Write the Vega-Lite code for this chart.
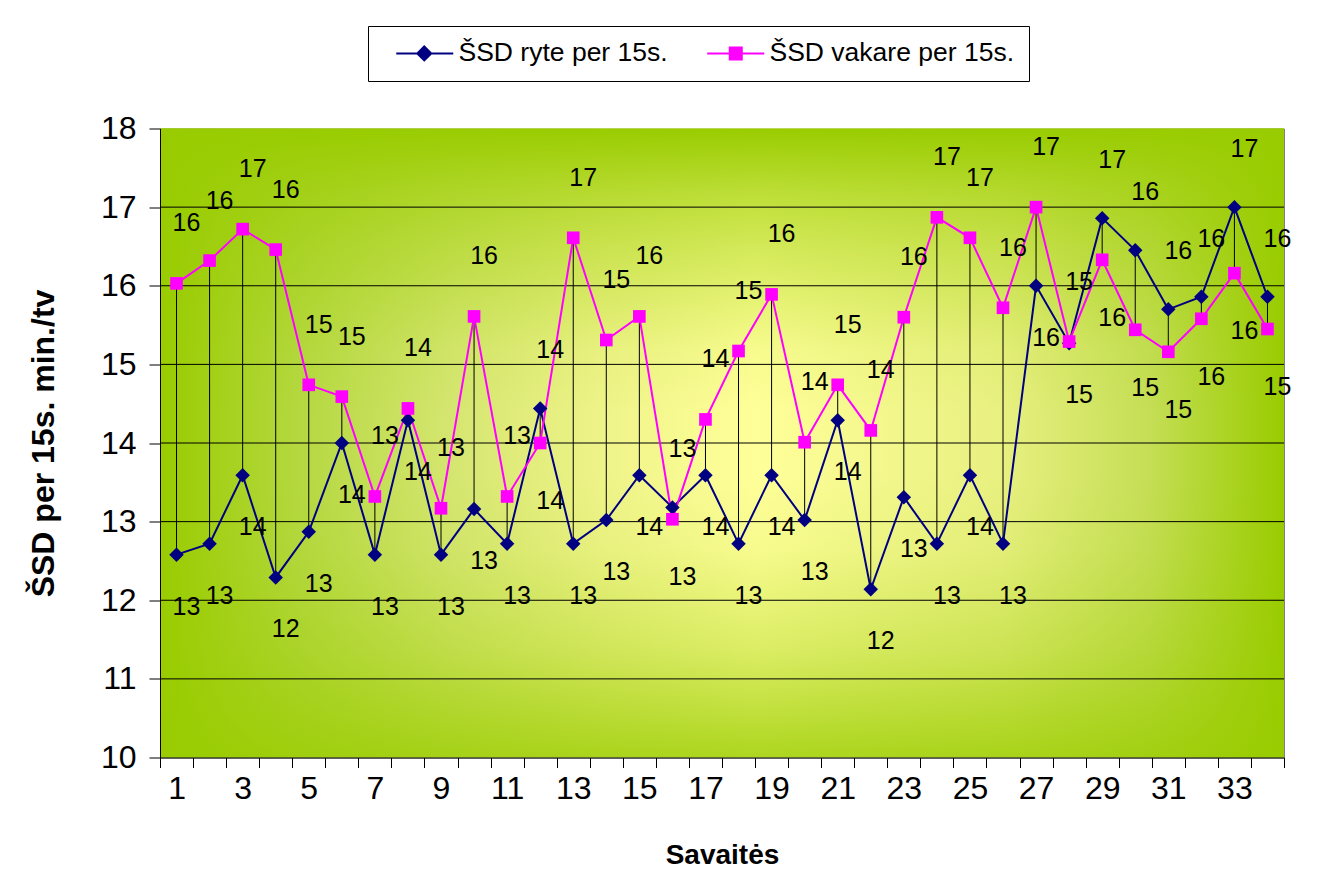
{
  "$schema": "https://vega.github.io/schema/vega-lite/v6.json",
  "width": 1124,
  "height": 629,
  "autosize": {"type": "none"},
  "padding": {"left": 160, "top": 128.5, "right": 35, "bottom": 117.5},
  "background": "white",
  "datasets": {
    "savaites": [
      {"w": 1, "ryte": 12.58, "vakare": 16.03},
      {"w": 2, "ryte": 12.72, "vakare": 16.32},
      {"w": 3, "ryte": 13.59, "vakare": 16.72},
      {"w": 4, "ryte": 12.29, "vakare": 16.46},
      {"w": 5, "ryte": 12.87, "vakare": 14.74},
      {"w": 6, "ryte": 14.0, "vakare": 14.59},
      {"w": 7, "ryte": 12.58, "vakare": 13.32},
      {"w": 8, "ryte": 14.29, "vakare": 14.44},
      {"w": 9, "ryte": 12.58, "vakare": 13.17},
      {"w": 10, "ryte": 13.16, "vakare": 15.61},
      {"w": 11, "ryte": 12.72, "vakare": 13.32},
      {"w": 12, "ryte": 14.44, "vakare": 14.0},
      {"w": 13, "ryte": 12.72, "vakare": 16.61},
      {"w": 14, "ryte": 13.02, "vakare": 15.31},
      {"w": 15, "ryte": 13.59, "vakare": 15.61},
      {"w": 16, "ryte": 13.18, "vakare": 13.03},
      {"w": 17, "ryte": 13.59, "vakare": 14.3},
      {"w": 18, "ryte": 12.72, "vakare": 15.17},
      {"w": 19, "ryte": 13.59, "vakare": 15.89},
      {"w": 20, "ryte": 13.02, "vakare": 14.01},
      {"w": 21, "ryte": 14.29, "vakare": 14.74},
      {"w": 22, "ryte": 12.14, "vakare": 14.16},
      {"w": 23, "ryte": 13.31, "vakare": 15.6},
      {"w": 24, "ryte": 12.72, "vakare": 16.87},
      {"w": 25, "ryte": 13.59, "vakare": 16.61},
      {"w": 26, "ryte": 12.72, "vakare": 15.72},
      {"w": 27, "ryte": 16.0, "vakare": 17.0},
      {"w": 28, "ryte": 15.27, "vakare": 15.29},
      {"w": 29, "ryte": 16.86, "vakare": 16.33},
      {"w": 30, "ryte": 16.45, "vakare": 15.44},
      {"w": 31, "ryte": 15.7, "vakare": 15.16},
      {"w": 32, "ryte": 15.86, "vakare": 15.58},
      {"w": 33, "ryte": 17.0, "vakare": 16.16},
      {"w": 34, "ryte": 15.86, "vakare": 15.45}
    ],
    "tinklelis": [{"g": 11}, {"g": 12}, {"g": 13}, {"g": 14}, {"g": 15}, {"g": 16}, {"g": 17}]
  },
  "data": {"name": "savaites"},
  "layer": [
    {
      "data": {"values": [{}]},
      "mark": {
        "type": "rect",
        "fill": {
          "gradient": "linear", "x1": 0, "y1": 0, "x2": 1, "y2": 0,
          "stops": [
            {"offset": 0, "color": "#99CC00"},
            {"offset": 0.125, "color": "#B5D840"},
            {"offset": 0.26, "color": "#D5E670"},
            {"offset": 0.39, "color": "#EEF388"},
            {"offset": 0.53, "color": "#FFFF99"},
            {"offset": 0.75, "color": "#E8F080"},
            {"offset": 0.88, "color": "#C5DE55"},
            {"offset": 1, "color": "#99CC00"}
          ]
        }
      },
      "encoding": {"x": {"value": 0}, "x2": {"value": "width"}, "y": {"value": 0}, "y2": {"value": "height"}}
    },
    {
      "data": {"values": [{}]},
      "mark": {
        "type": "rect",
        "fill": {
          "gradient": "linear", "x1": 0, "y1": 0, "x2": 0, "y2": 1,
          "stops": [
            {"offset": 0, "color": "rgba(153,204,0,1)"},
            {"offset": 0.1, "color": "rgba(153,204,0,0.65)"},
            {"offset": 0.19, "color": "rgba(153,204,0,0.42)"},
            {"offset": 0.35, "color": "rgba(153,204,0,0.08)"},
            {"offset": 0.45, "color": "rgba(153,204,0,0)"},
            {"offset": 0.55, "color": "rgba(153,204,0,0)"},
            {"offset": 0.67, "color": "rgba(153,204,0,0.08)"},
            {"offset": 0.83, "color": "rgba(153,204,0,0.35)"},
            {"offset": 1, "color": "rgba(153,204,0,0.8)"}
          ]
        }
      },
      "encoding": {"x": {"value": 0}, "x2": {"value": "width"}, "y": {"value": 0}, "y2": {"value": "height"}}
    },
    {
      "data": {"name": "tinklelis"},
      "mark": {"type": "rule", "color": "black", "strokeWidth": 1},
      "encoding": {
        "y": {"field": "g", "type": "quantitative", "scale": {"domain": [10, 18]}, "title": "ŠSD per 15s. min./tv", "axis": {"zindex": 1, "tickCount": 8}}
      }
    },
    {
      "mark": {"type": "rule", "color": "black", "strokeWidth": 1},
      "encoding": {
        "x": {"field": "w", "type": "ordinal", "title": "Savaitės", "scale": {"type": "band", "paddingInner": 0, "paddingOuter": 0}, "axis": {"zindex": 1, "tickBand": "extent", "labelAngle": 0, "labelOverlap": false, "labelExpr": "datum.value % 2 === 1 ? datum.label : ''"}},
        "y": {"field": "ryte", "type": "quantitative", "scale": {"domain": [10, 18]}, "title": "ŠSD per 15s. min./tv", "axis": {"zindex": 1, "tickCount": 8}},
        "y2": {"field": "vakare"}
      }
    },
    {
      "transform": [{"fold": ["ryte", "vakare"], "as": ["s", "v"]}],
      "mark": {"type": "line", "strokeWidth": 2},
      "encoding": {
        "x": {"field": "w", "type": "ordinal", "title": "Savaitės", "scale": {"type": "band", "paddingInner": 0, "paddingOuter": 0}, "axis": {"zindex": 1, "tickBand": "extent", "labelAngle": 0, "labelOverlap": false, "labelExpr": "datum.value % 2 === 1 ? datum.label : ''"}},
        "y": {"field": "v", "type": "quantitative", "scale": {"domain": [10, 18]}, "title": "ŠSD per 15s. min./tv", "axis": {"zindex": 1, "tickCount": 8}},
        "color": {
          "field": "s", "type": "nominal",
          "scale": {"domain": ["ryte", "vakare"], "range": ["#000080", "#FF00FF"]},
          "legend": {
            "orient": "none", "legendX": 208, "legendY": -102.5, "direction": "horizontal",
            "title": null, "padding": 14, "strokeColor": "black", "fillColor": "white",
            "symbolSize": 400, "labelOffset": 50, "columnPadding": 25, "labelLimit": 500,
            "labelFont": "Liberation Sans", "labelFontSize": 26.5, "labelColor": "black",
            "labelExpr": "datum.label === 'ryte' ? 'ŠSD ryte per 15s.' : 'ŠSD vakare per 15s.'",
            "encode": {
              "symbols": {
                "update": {
                  "shape": {"signal": "datum.value === 'ryte' ? 'M0.1,0H5.8M2.9,-0.7L3.6,0L2.9,0.7L2.2,0Z' : 'M0.1,0H5.8M2.35,-0.6H3.55V0.6H2.35Z'"},
                  "fill": {"signal": "datum.value === 'ryte' ? '#000080' : '#FF00FF'"},
                  "stroke": {"signal": "datum.value === 'ryte' ? '#000080' : '#FF00FF'"},
                  "strokeWidth": {"value": 2},
                  "opacity": {"value": 1}
                }
              }
            }
          }
        }
      }
    },
    {
      "mark": {"type": "point", "shape": "diamond", "filled": true, "opacity": 1, "size": 210, "color": "#000080"},
      "encoding": {
        "x": {"field": "w", "type": "ordinal", "title": "Savaitės", "scale": {"type": "band", "paddingInner": 0, "paddingOuter": 0}, "axis": {"zindex": 1, "tickBand": "extent", "labelAngle": 0, "labelOverlap": false, "labelExpr": "datum.value % 2 === 1 ? datum.label : ''"}},
        "y": {"field": "ryte", "type": "quantitative", "scale": {"domain": [10, 18]}, "title": "ŠSD per 15s. min./tv", "axis": {"zindex": 1, "tickCount": 8}}
      }
    },
    {
      "mark": {"type": "point", "shape": "square", "filled": true, "opacity": 1, "size": 160, "color": "#FF00FF"},
      "encoding": {
        "x": {"field": "w", "type": "ordinal", "title": "Savaitės", "scale": {"type": "band", "paddingInner": 0, "paddingOuter": 0}, "axis": {"zindex": 1, "tickBand": "extent", "labelAngle": 0, "labelOverlap": false, "labelExpr": "datum.value % 2 === 1 ? datum.label : ''"}},
        "y": {"field": "vakare", "type": "quantitative", "scale": {"domain": [10, 18]}, "title": "ŠSD per 15s. min./tv", "axis": {"zindex": 1, "tickCount": 8}}
      }
    },
    {
      "transform": [{"filter": "datum.vakare >= datum.ryte"}],
      "mark": {"type": "text", "dx": 10, "dy": -60, "fontSize": 25, "font": "Liberation Sans", "color": "black"},
      "encoding": {
        "x": {"field": "w", "type": "ordinal", "title": "Savaitės", "scale": {"type": "band", "paddingInner": 0, "paddingOuter": 0}, "axis": {"zindex": 1, "tickBand": "extent", "labelAngle": 0, "labelOverlap": false, "labelExpr": "datum.value % 2 === 1 ? datum.label : ''"}},
        "y": {"field": "vakare", "type": "quantitative", "scale": {"domain": [10, 18]}, "title": "ŠSD per 15s. min./tv", "axis": {"zindex": 1, "tickCount": 8}},
        "text": {"field": "vakare", "type": "quantitative", "format": ".0f"}
      }
    },
    {
      "transform": [{"filter": "datum.vakare >= datum.ryte"}],
      "mark": {"type": "text", "dx": 10, "dy": 52, "fontSize": 25, "font": "Liberation Sans", "color": "black"},
      "encoding": {
        "x": {"field": "w", "type": "ordinal", "title": "Savaitės", "scale": {"type": "band", "paddingInner": 0, "paddingOuter": 0}, "axis": {"zindex": 1, "tickBand": "extent", "labelAngle": 0, "labelOverlap": false, "labelExpr": "datum.value % 2 === 1 ? datum.label : ''"}},
        "y": {"field": "ryte", "type": "quantitative", "scale": {"domain": [10, 18]}, "title": "ŠSD per 15s. min./tv", "axis": {"zindex": 1, "tickCount": 8}},
        "text": {"field": "ryte", "type": "quantitative", "format": ".0f"}
      }
    },
    {
      "transform": [{"filter": "datum.ryte > datum.vakare"}],
      "mark": {"type": "text", "dx": 10, "dy": -58, "fontSize": 25, "font": "Liberation Sans", "color": "black"},
      "encoding": {
        "x": {"field": "w", "type": "ordinal", "title": "Savaitės", "scale": {"type": "band", "paddingInner": 0, "paddingOuter": 0}, "axis": {"zindex": 1, "tickBand": "extent", "labelAngle": 0, "labelOverlap": false, "labelExpr": "datum.value % 2 === 1 ? datum.label : ''"}},
        "y": {"field": "ryte", "type": "quantitative", "scale": {"domain": [10, 18]}, "title": "ŠSD per 15s. min./tv", "axis": {"zindex": 1, "tickCount": 8}},
        "text": {"field": "ryte", "type": "quantitative", "format": ".0f"}
      }
    },
    {
      "transform": [{"filter": "datum.ryte > datum.vakare"}],
      "mark": {"type": "text", "dx": 10, "dy": 58, "fontSize": 25, "font": "Liberation Sans", "color": "black"},
      "encoding": {
        "x": {"field": "w", "type": "ordinal", "title": "Savaitės", "scale": {"type": "band", "paddingInner": 0, "paddingOuter": 0}, "axis": {"zindex": 1, "tickBand": "extent", "labelAngle": 0, "labelOverlap": false, "labelExpr": "datum.value % 2 === 1 ? datum.label : ''"}},
        "y": {"field": "vakare", "type": "quantitative", "scale": {"domain": [10, 18]}, "title": "ŠSD per 15s. min./tv", "axis": {"zindex": 1, "tickCount": 8}},
        "text": {"field": "vakare", "type": "quantitative", "format": ".0f"}
      }
    }
  ],
  "config": {
    "view": {"stroke": "#808080", "strokeWidth": 1},
    "font": "Liberation Sans",
    "axis": {
      "grid": false,
      "labelFont": "Liberation Sans",
      "titleFont": "Liberation Sans",
      "labelColor": "black",
      "titleColor": "black",
      "domainColor": "black",
      "tickColor": "black",
      "labelFontSize": 32,
      "titleFontWeight": "bold"
    },
    "axisY": {"tickSize": 11, "labelPadding": 13, "titleFontSize": 32, "titlePadding": 40},
    "axisX": {"tickSize": 10, "labelPadding": 6, "titleFontSize": 28, "titlePadding": 37}
  }
}
